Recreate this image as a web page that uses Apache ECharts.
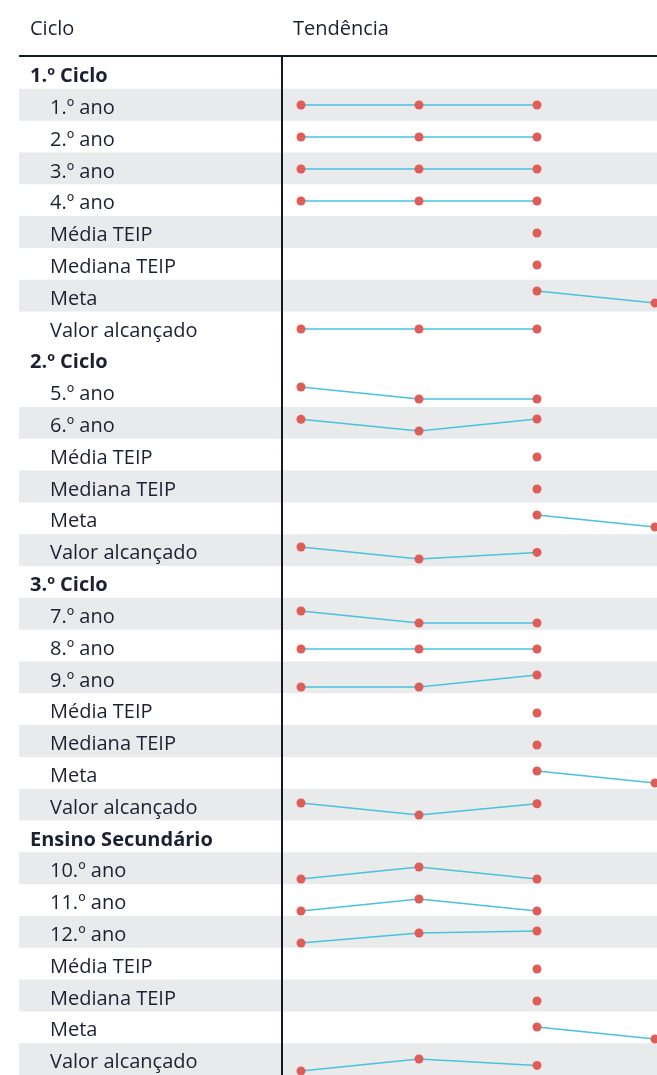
<!DOCTYPE html>
<html>
<head>
<meta charset="utf-8">
<script src="https://cdn.jsdelivr.net/npm/echarts@6/dist/echarts.min.js"></script>
<style>
  html, body { margin: 0; padding: 0; background: #fff; }
  #chart-container { width: 657px; height: 1075px; }
</style>
</head>
<body>
<div id="chart-container"></div>
<script>
var dom = document.getElementById('chart-container');
var myChart = echarts.init(dom, null, { renderer: 'canvas' });

// anos lectivos (eixo da tendência)
const periodos = ['2019/20', '2020/21', '2021/22', '2022/23'];

const grupos = ['1.º Ciclo', '2.º Ciclo', '3.º Ciclo', 'Ensino Secundário'];

const linhas1 = ['1.º ano', '2.º ano', '3.º ano', '4.º ano', 'Média TEIP', 'Mediana TEIP', 'Meta', 'Valor alcançado'];
const valores1 = [
  [100, 100, 100, null],
  [100, 100, 100, null],
  [100, 100, 100, null],
  [100, 100, 100, null],
  [null, null, 98.5, null],
  [null, null, 99.1, null],
  [null, null, 97, 95],
  [100, 100, 100, null]
];

const linhas2 = ['5.º ano', '6.º ano', 'Média TEIP', 'Mediana TEIP', 'Meta', 'Valor alcançado'];
const valores2 = [
  [100, 97.6, 97.6, null],
  [98.9, 95.2, 99.0, null],
  [null, null, 96.8, null],
  [null, null, 97.3, null],
  [null, null, 96, 94],
  [99.4, 96.3, 98.0, null]
];

const linhas3 = ['7.º ano', '8.º ano', '9.º ano', 'Média TEIP', 'Mediana TEIP', 'Meta', 'Valor alcançado'];
const valores3 = [
  [98.5, 94.1, 94.1, null],
  [100, 100, 100, null],
  [93.2, 93.2, 96.8, null],
  [null, null, 95.1, null],
  [null, null, 95.9, null],
  [null, null, 94, 92],
  [97.2, 93.9, 97.0, null]
];

const linhas4 = ['10.º ano', '11.º ano', '12.º ano', 'Média TEIP', 'Mediana TEIP', 'Meta', 'Valor alcançado'];
const valores4 = [
  [86.4, 92.7, 86.4, null],
  [84.1, 89.6, 84.1, null],
  [81.0, 89.7, 91.4, null],
  [null, null, 87.2, null],
  [null, null, 88.0, null],
  [null, null, 90, 88],
  [84.0, 90.2, 86.9, null]
];

const FONT = "'Open Sans', 'Noto Sans', sans-serif";
const TEXT = '#1c2033';
const ROW_H = 32;
const TOP = 57;

// montar as linhas da tabela
var rows = [];
[[linhas1, valores1], [linhas2, valores2], [linhas3, valores3], [linhas4, valores4]].forEach(function (g, gi) {
  rows.push({ label: grupos[gi], header: true });
  g[0].forEach(function (l, i) {
    rows.push({ label: l, header: false, values: g[1][i] });
  });
});

// cor de fundo alternada (cabeçalhos de grupo ficam sem faixa)
var stripes = rows.map(function (r, i) {
  return (!r.header && i % 2 === 1) ? '#e9eaec' : 'rgba(255,255,255,0)';
});

var grids = [{ left: 19, right: 0, top: TOP, height: rows.length * ROW_H }];
var xAxes = [{ type: 'value', gridIndex: 0, min: 0, max: 1, show: false }];
var yAxes = [{
  type: 'category',
  gridIndex: 0,
  inverse: true,
  data: rows.map(function (r) { return r.label; }),
  axisLine: { show: false },
  axisTick: { show: false },
  splitLine: { show: false },
  splitArea: { show: true, interval: 0, areaStyle: { color: stripes } },
  axisLabel: {
    inside: true,
    interval: 0,
    margin: 11,
    color: TEXT,
    fontFamily: FONT,
    fontSize: 20,
    formatter: function (v, i) {
      return rows[i].header ? '{g|' + v + '}' : '{l|' + v + '}';
    },
    rich: {
      g: { fontWeight: 'bold', fontSize: 20, fontFamily: FONT, color: TEXT, padding: [7, 0, 0, 0] },
      l: { fontSize: 20, fontFamily: FONT, color: TEXT, padding: [7, 0, 0, 20] }
    }
  }
}];
var series = [];

rows.forEach(function (r, i) {
  if (r.header) return;
  var idx = grids.length;
  grids.push({ left: 301, width: 354, top: TOP + i * ROW_H + 10, height: 12 });
  xAxes.push({ type: 'category', gridIndex: idx, data: periodos, boundaryGap: false, show: false });
  yAxes.push({
    type: 'value', gridIndex: idx, show: false,
    min: function (e) { return e.min === e.max ? e.min - 1 : e.min; },
    max: function (e) { return e.min === e.max ? e.max + 1 : e.max; }
  });
  series.push({
    type: 'line',
    xAxisIndex: idx,
    yAxisIndex: idx,
    data: r.values,
    clip: false,
    symbol: 'circle',
    symbolSize: 9,
    showAllSymbol: true,
    itemStyle: { color: '#e05d57' },
    lineStyle: { color: '#45c4db', width: 1.5 }
  });
});

option = {
  animation: false,
  grid: grids,
  xAxis: xAxes,
  yAxis: yAxes,
  series: series,
  graphic: [
    { type: 'text', x: 30, y: 29, z: 100, style: { text: 'Ciclo', fill: TEXT, font: '20px ' + FONT, verticalAlign: 'middle' } },
    { type: 'text', x: 293, y: 29, z: 100, style: { text: 'Tendência', fill: TEXT, font: '20px ' + FONT, verticalAlign: 'middle' } },
    { type: 'line', z: 100, shape: { x1: 19, y1: 56, x2: 657, y2: 56 }, style: { stroke: '#111829', lineWidth: 2 } },
    { type: 'line', z: 100, shape: { x1: 282, y1: 56, x2: 282, y2: 1075 }, style: { stroke: '#111829', lineWidth: 2 } }
  ]
};

myChart.setOption(option);
window.addEventListener('resize', myChart.resize);
</script>
</body>
</html>
